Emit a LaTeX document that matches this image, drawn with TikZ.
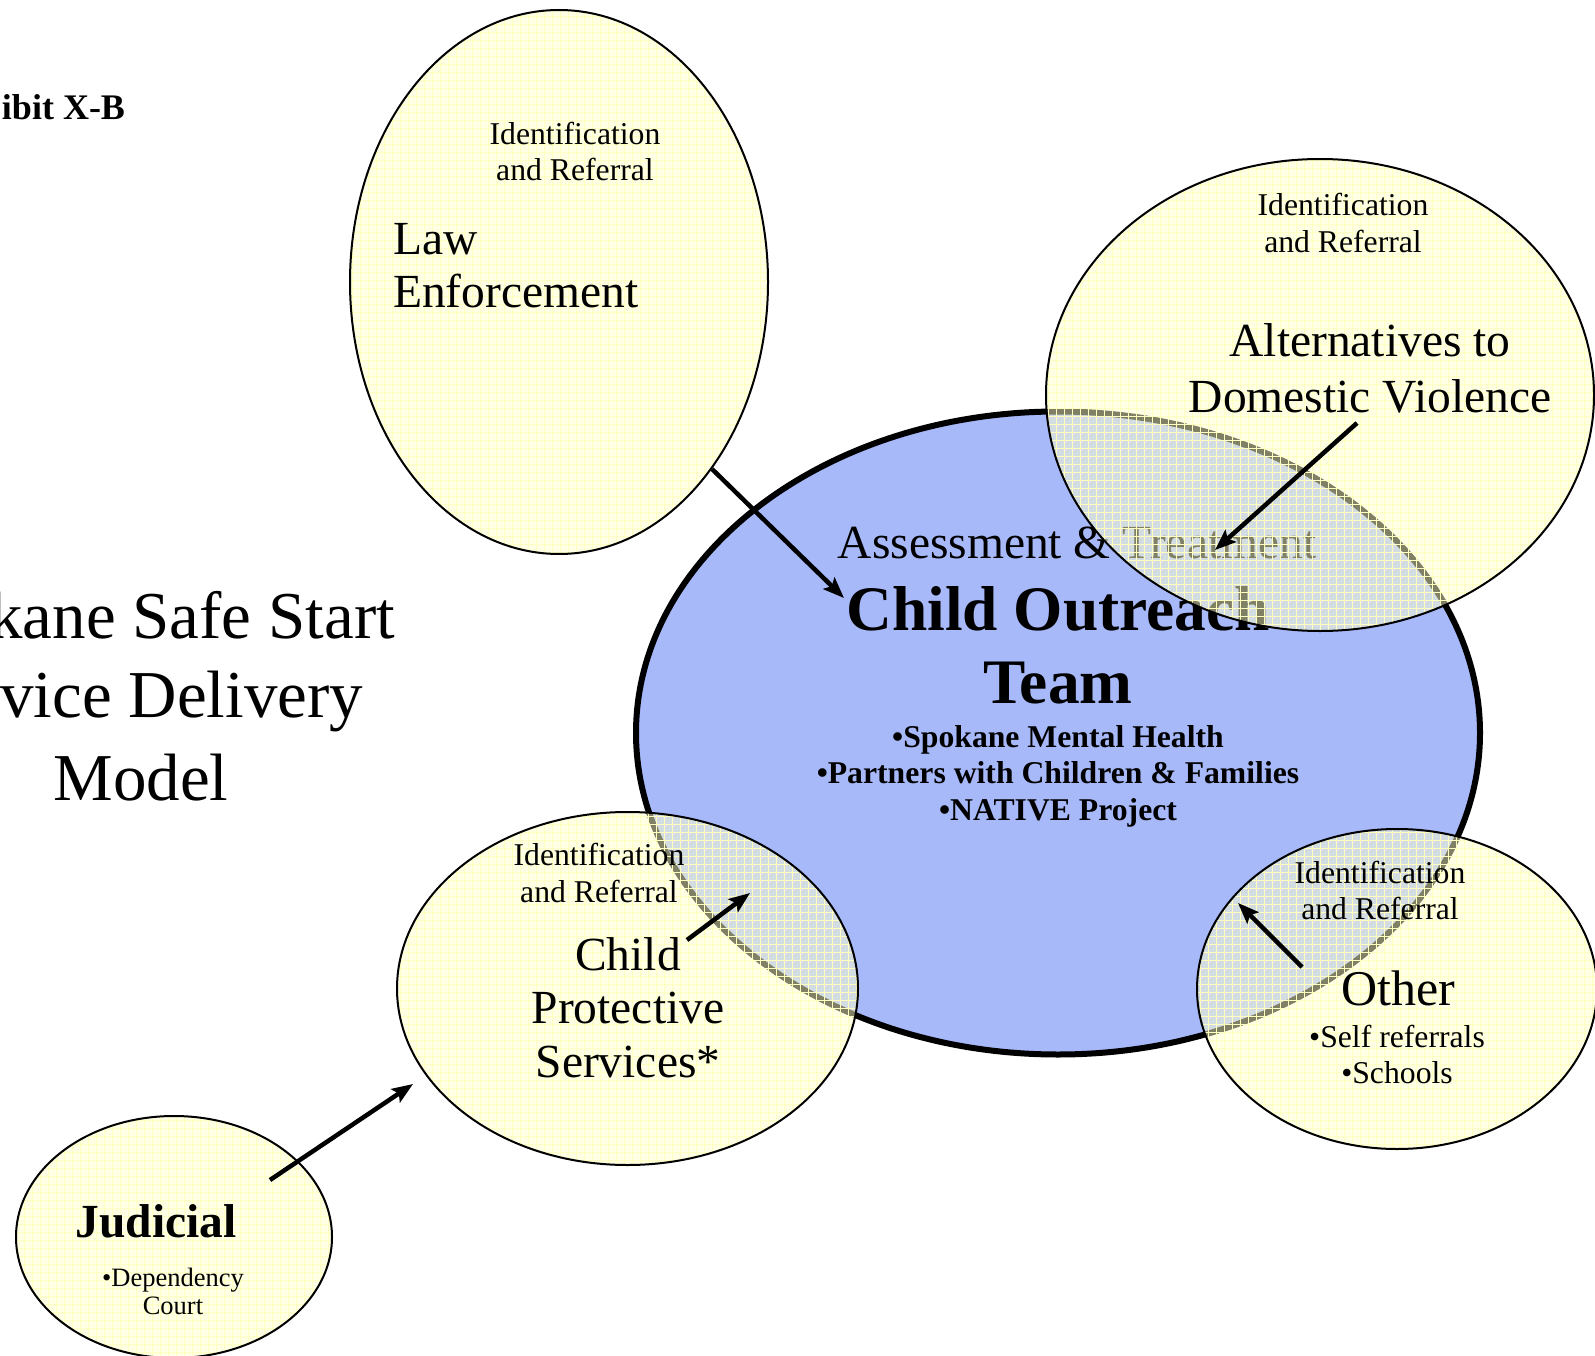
\documentclass[tikz,border=0pt]{standalone}
\usepackage{fontspec}
\setmainfont{Liberation Serif}
\usetikzlibrary{shapes.geometric,arrows.meta}
\definecolor{cotblue}{RGB}{168,185,250}
\definecolor{ylw}{RGB}{255,255,200}
\definecolor{gridy}{RGB}{255,255,188}
\newcommand{\fsA}{\fontsize{31.7}{36}\selectfont}
\newcommand{\fsB}{\fontsize{47.5}{54}\selectfont}
\newcommand{\fsC}{\fontsize{63.4}{72}\selectfont}
\newcommand{\fsD}{\fontsize{67}{80}\selectfont}
\newcommand{\fsE}{\fontsize{26.5}{28}\selectfont}
\newcommand{\fsX}{\fontsize{36}{40}\selectfont}
\newcommand{\fsO}{\fontsize{50}{56}\selectfont}
\begin{document}
\begin{tikzpicture}[x=1pt,y=-1pt,
  lbl/.style={inner sep=0pt, outer sep=0pt, anchor=base},
  yfill/.style={ellipse, inner sep=0pt, outer sep=0pt, fill=ylw, fill opacity=0.5, draw=black, draw opacity=1, line width=2pt},
  gridlines/.style={draw=gridy, line width=0.9pt},
  arr/.style={line width=4.5pt, -{Stealth[length=21pt,width=16pt,inset=4pt]}}]
\useasboundingbox (0,0) rectangle (1595,1356);
\fill[white] (0,0) rectangle (1595,1356);
\clip (0,0) rectangle (1595,1356);

% ---- title texts
\node[lbl, anchor=base east] (exh) at (125,120) {\fsX\bfseries ibit X-B};
\node[lbl, anchor=base east] (t1) at (395,638) {\fsD kane Safe Start};
\node[lbl, anchor=base east] (t2) at (363,717) {\fsD vice Delivery};
\node[lbl] (t3) at (141,800) {\fsD Model};

% ---- central ellipse
\node[ellipse, inner sep=0pt, minimum width=844pt, minimum height=643pt, fill=cotblue, draw=black, line width=6pt] (cot) at (1058,733) {};
\node[lbl] (cot1) at (1077,558) {\fsB Assessment \& Treatment};
\node[lbl] (cot2) at (1058,630) {\fsC\bfseries Child Outreach};
\node[lbl] (cot3) at (1058,703) {\fsC\bfseries Team};
\node[lbl] (cot4) at (1058,747) {\fsA\bfseries •Spokane Mental Health};
\node[lbl] (cot5) at (1058,783) {\fsA\bfseries •Partners with Children \& Families};
\node[lbl] (cot6) at (1058,820) {\fsA\bfseries •NATIVE Project};

% ---- Law Enforcement
\begin{scope}
\clip (559,282) ellipse [x radius=209, y radius=272];
\draw[gridlines, step=8pt] (340,0) grid (780,570);
\end{scope}
\node[yfill, minimum width=418pt, minimum height=544pt] (law) at (559,282) {};
\node[lbl] (law1) at (575,145) {\fsA Identification};
\node[lbl] (law2) at (575,181) {\fsA and Referral};
\node[lbl, anchor=base west] (law3) at (393,255) {\fsB Law};
\node[lbl, anchor=base west] (law4) at (393,308) {\fsB Enforcement};

% ---- Alternatives to Domestic Violence
\begin{scope}
\clip (1320,395) ellipse [x radius=274, y radius=236];
\draw[gridlines, step=8pt] (1040,150) grid (1600,640);
\end{scope}
\node[yfill, minimum width=548pt, minimum height=472pt] (adv) at (1320,395) {};
\node[lbl] (adv1) at (1343,216) {\fsA Identification};
\node[lbl] (adv2) at (1343,253) {\fsA and Referral};
\node[lbl] (adv3) at (1370,356) {\fsB Alternatives to};
\node[lbl] (adv4) at (1370,412) {\fsB Domestic Violence};

% ---- Child Protective Services
\begin{scope}
\clip (627.5,988.5) ellipse [x radius=230.5, y radius=176.5];
\draw[gridlines, step=8pt] (390,800) grid (870,1170);
\end{scope}
\node[yfill, minimum width=461pt, minimum height=353pt] (cps) at (627.5,988.5) {};
\node[lbl] (cps1) at (599,865) {\fsA Identification};
\node[lbl] (cps2) at (599,902) {\fsA and Referral};
\node[lbl] (cps3) at (628,970) {\fsB Child};
\node[lbl] (cps4) at (628,1023) {\fsB Protective};
\node[lbl] (cps5) at (628,1077) {\fsB Services*};

% ---- Other
\begin{scope}
\clip (1397,989) ellipse [x radius=200, y radius=160];
\draw[gridlines, step=8pt] (1190,820) grid (1600,1160);
\end{scope}
\node[yfill, minimum width=400pt, minimum height=320pt] (oth) at (1397,989) {};
\node[lbl] (oth1) at (1380,883) {\fsA Identification};
\node[lbl] (oth2) at (1380,919) {\fsA and Referral};
\node[lbl] (oth3) at (1398,1005) {\fsO Other};
\node[lbl] (oth4) at (1397,1047) {\fsA •Self referrals};
\node[lbl] (oth5) at (1397,1083) {\fsA •Schools};

% ---- Judicial
\begin{scope}
\clip (174,1237) ellipse [x radius=158, y radius=121];
\draw[gridlines, step=8pt] (10,1110) grid (340,1360);
\end{scope}
\node[yfill, minimum width=316pt, minimum height=242pt] (jud) at (174,1237) {};
\node[lbl] (jud1) at (156,1237) {\fsB\bfseries Judicial};
\node[lbl] (jud2) at (173,1286) {\fsE •Dependency};
\node[lbl] (jud3) at (173,1314) {\fsE Court};

% ---- arrows
\coordinate (a1s) at (712,469);  \coordinate (a1e) at (844,598);
\coordinate (a2s) at (1357,423); \coordinate (a2e) at (1215,550);
\coordinate (a3s) at (687,940);  \coordinate (a3e) at (750,893);
\coordinate (a4s) at (1302,967); \coordinate (a4e) at (1238,903);
\coordinate (a5s) at (270,1180); \coordinate (a5e) at (413,1084);
\draw[arr] (a1s) -- (a1e);
\draw[arr] (a2s) -- (a2e);
\draw[arr] (a3s) -- (a3e);
\draw[arr] (a4s) -- (a4e);
\draw[arr] (a5s) -- (a5e);
\end{tikzpicture}
\end{document}
